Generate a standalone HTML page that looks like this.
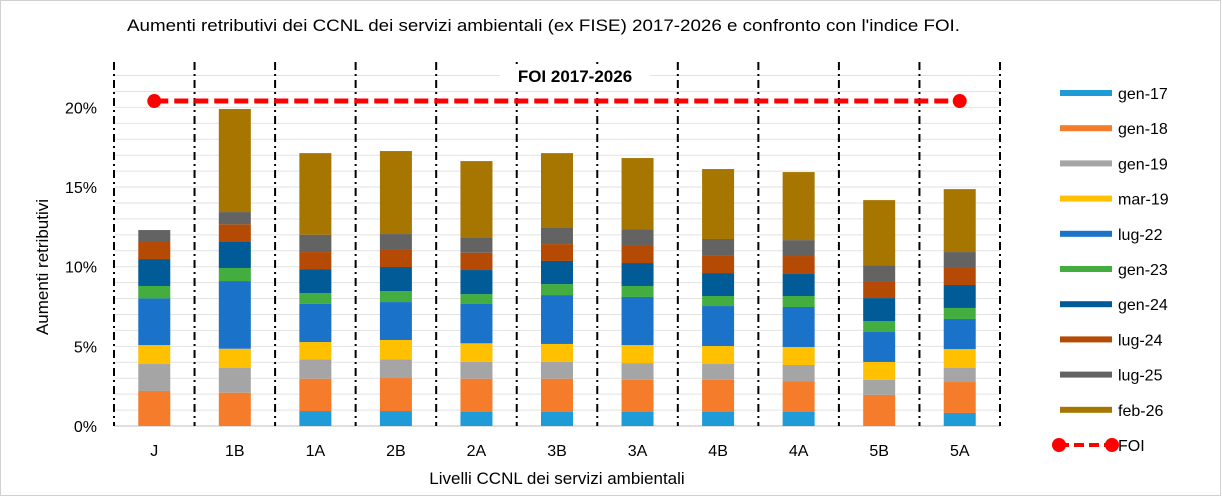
<!DOCTYPE html>
<html><head><meta charset="utf-8"><style>
body{margin:0;background:#fff;font-family:"Liberation Sans",Arial,sans-serif}
svg text{font-family:"Liberation Sans",Arial,sans-serif}
</style></head><body>
<svg id="chart" width="1222" height="497" viewBox="0 0 1222 497" xmlns="http://www.w3.org/2000/svg">
<rect x="0.5" y="0.5" width="1220" height="495" fill="#fff" stroke="#d0d0d0"/>
<text x="127" y="31" font-size="16.5" textLength="833" lengthAdjust="spacingAndGlyphs" fill="#000">Aumenti retributivi dei CCNL dei servizi ambientali (ex FISE) 2017-2026 e confronto con l'indice FOI.</text>
<text x="48" y="267" font-size="17" text-anchor="middle" transform="rotate(-90 48 267)">Aumenti  retributivi</text>
<text x="557" y="484" font-size="17" text-anchor="middle">Livelli CCNL dei servizi ambientali</text>
<g id="grid"></g><g id="bars"></g><g id="divs"></g>
<rect x="500" y="64" width="150" height="24" fill="#fff"/>
<text x="575" y="82" font-size="17" font-weight="bold" text-anchor="middle">FOI 2017-2026</text>
<g id="foi"></g><g id="axes"></g><g id="legend"></g>
</svg>
<script>
const categories=["J","1B","1A","2B","2A","3B","3A","4B","4A","5B","5A"];
const seriesNames=["gen-17","gen-18","gen-19","mar-19","lug-22","gen-23","gen-24","lug-24","lug-25","feb-26"];
const colors=["#1f9bd7","#f47c2b","#a5a5a5","#ffc000","#1b72c9","#43ad3f","#005b96","#b54a04","#636363","#a67600"];
const gen17=[0,0,0.94,0.94,0.88,0.88,0.88,0.88,0.88,0,0.82];
const gen18=[2.2,2.09,2.03,2.07,2.09,2.09,2.03,2.03,1.94,1.95,1.94];
const gen19=[1.69,1.55,1.21,1.17,1.05,1.05,1.04,0.98,1.01,0.94,0.88];
const mar19=[1.19,1.21,1.09,1.22,1.17,1.13,1.13,1.13,1.13,1.13,1.19];
const lug22=[2.93,4.25,2.41,2.38,2.47,3.07,3.02,2.51,2.51,1.88,1.89];
const gen23=[0.78,0.82,0.67,0.69,0.62,0.69,0.69,0.63,0.69,0.69,0.69];
const gen24=[1.69,1.63,1.5,1.51,1.51,1.45,1.44,1.44,1.38,1.44,1.44];
const lug24=[1.07,1.11,1.07,1.07,1.09,1.06,1.13,1.13,1.13,1.07,1.07];
const lug25=[0.75,0.77,1.09,1.0,0.96,1.01,1.0,1.01,1.0,1.0,1.0];
const feb26=[0,6.47,5.12,5.21,4.79,4.7,4.46,4.39,4.27,4.08,3.95];
const foiValue=20.4;
const yTicks=[0,5,10,15,20];
const series=[gen17,gen18,gen19,mar19,lug22,gen23,gen24,lug24,lug25,feb26];
const NS="http://www.w3.org/2000/svg";
const X0=114,X1=1000,Y0=426,PPP=15.93,TOP=62;
const bandW=(X1-X0)/categories.length;
const xC=i=>X0+bandW*(i+0.5);
const yS=v=>Y0-v*PPP;
function mk(tag,attrs,parent){const e=document.createElementNS(NS,tag);for(const k in attrs)e.setAttribute(k,attrs[k]);document.getElementById(parent).appendChild(e);return e;}
for(let p=0;p<=22;p++){
  const g=mk('line',{x1:X0,x2:X1,y1:yS(p),y2:yS(p),stroke:p===0?'#bfbfbf':'#e2e2e2','stroke-width':1},'grid');
  
  
}
yTicks.forEach(t=>{
  const tx=mk('text',{x:97,y:yS(t)+6,'font-size':16,'text-anchor':'end'},'axes');tx.textContent=t+'%';
  
  
});
categories.forEach((c,i)=>{
  const tx=mk('text',{x:xC(i),y:456,'font-size':16,'text-anchor':'middle'},'axes');tx.textContent=c;
  
  
  let cum=0;
  series.forEach((s,k)=>{
    const v=s[i];if(v>0){
      const r=mk('rect',{x:xC(i)-16,width:32,y:yS(cum+v),height:v*PPP,fill:colors[k]},'bars');
      
      
    }
    cum+=v;
  });
});
for(let i=0;i<=categories.length;i++){
  const x=X0+bandW*i;
  const d=mk('line',{x1:x,x2:x,y1:TOP,y2:Y0,stroke:'#000','stroke-width':2,'stroke-dasharray':'8 4 2 4'},'divs');
  
  
}
const fl=mk('line',{x1:xC(0),x2:xC(categories.length-1),y1:yS(foiValue),y2:yS(foiValue),stroke:'#f00','stroke-width':5,'stroke-dasharray':'14 6'},'foi');


[0,categories.length-1].forEach(i=>{
  const c=mk('circle',{cx:xC(i),cy:yS(foiValue),r:7,fill:'#f00'},'foi');
  
  
});
seriesNames.forEach((n,k)=>{
  const y=93+k*35.2;
  const r=mk('rect',{x:1060,y:y-3,width:52,height:6,fill:colors[k]},'legend');
  
  
  const t=mk('text',{x:1118,y:y+6,'font-size':16},'legend');t.textContent=n;
  
  
});
const ly=445;
const ll=mk('line',{x1:1059,x2:1112,y1:ly,y2:ly,stroke:'#f00','stroke-width':4,'stroke-dasharray':'10 5'},'legend');


[1059,1112].forEach(x=>{const c=mk('circle',{cx:x,cy:ly,r:7,fill:'#f00'},'legend');
  
  });
const ft=mk('text',{x:1118,y:ly+6,'font-size':16},'legend');ft.textContent='FOI';


</script>
</body></html>
